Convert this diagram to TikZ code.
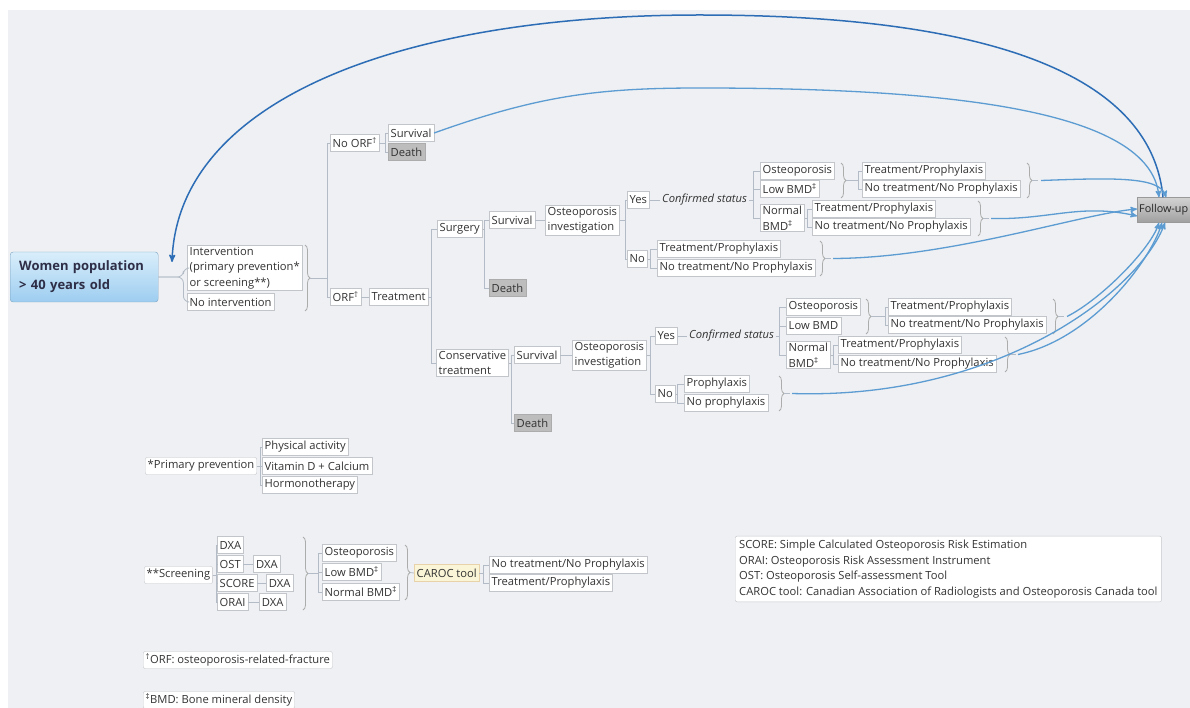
\documentclass[tikz,border=0pt]{standalone}
\usepackage{fontspec}
\setmainfont{Open Sans}
\usetikzlibrary{positioning,arrows,decorations.pathreplacing}

\definecolor{bggray}{HTML}{EEF0F3}
\definecolor{boxline}{HTML}{C2C5C9}
\definecolor{linkgray}{HTML}{B3BCC6}
\definecolor{deathfill}{HTML}{BDBDBD}
\definecolor{flowblue}{HTML}{5C9CD2}
\definecolor{loopblue}{HTML}{2D6DB6}
\definecolor{textdark}{HTML}{333333}
\definecolor{womentop}{HTML}{D9EEFB}
\definecolor{womenbot}{HTML}{9DCDF0}
\definecolor{carocfill}{HTML}{FAF5D6}

\begin{document}
\begin{tikzpicture}[x=1pt,y=-1pt,>=stealth',
    box/.style={draw=boxline,fill=white,anchor=west,inner xsep=2.5pt,inner ysep=1.5pt,
      minimum height=17pt,font=\fontsize{11.2}{15.5}\selectfont,text=textdark,align=left},
    death/.style={box,fill=deathfill,draw=gray!65},
    note/.style={box,rounded corners=2pt},
    plain/.style={anchor=west,inner sep=2pt,font=\fontsize{11.2}{15.5}\selectfont\itshape,text=textdark},
    women/.style={anchor=west,draw=womenbot!80!black,rounded corners=3pt,top color=womentop,bottom color=womenbot,
      minimum height=50pt,text width=130pt,inner xsep=9pt,align=left,
      font=\fontsize{13}{19}\selectfont\bfseries,text=textdark!90!blue},
    followup/.style={anchor=west,draw=gray!80,top color=gray!35,bottom color=gray!75,
      minimum height=25pt,minimum width=80pt,text width=76pt,inner xsep=1.5pt,
      font=\fontsize{10.8}{13}\selectfont,text=black!85},
    caroc/.style={box,fill=carocfill,draw=carocfill!70!brown},
    link/.style={draw=linkgray,line width=0.8pt},
    brc/.style={draw=gray!65,line width=0.8pt,decorate,decoration={brace,amplitude=5pt}},
    flow/.style={draw=flowblue,line width=1.3pt,->},
    loop/.style={draw=loopblue,line width=1.5pt,->}]

\fill[white] (0,0) rectangle (1190,708);
\fill[bggray] (8,10) rectangle (1190,708);
\useasboundingbox (0,0) rectangle (1190,708);

% main tree
\node[women] (women) at (10,277) {Women population\\> 40 years old};
\node[box] (interv) at (187,268) {Intervention\\(primary prevention*\\or screening**)};
\node[box] (nointerv) at (187,302) {No intervention};

\node[box] (noorf) at (330,143) {No ORF\textsuperscript{†}};
\node[box] (surv1) at (388,133) {Survival};
\node[death] (death1) at (388,152) {Death};
\node[box] (orf) at (330,297) {ORF\textsuperscript{†}};
\node[box] (treat) at (369,297) {Treatment};

\node[box] (surgery) at (437,229) {Surgery};
\node[box] (conserv) at (436,363) {Conservative\\treatment};

% surgery branch
\node[box] (surv2) at (489,220) {Survival};
\node[death] (death2) at (489,288) {Death};
\node[box] (inv1) at (545,220) {Osteoporosis\\investigation};
\node[box] (yes1) at (627,200) {Yes};
\node[box] (no1) at (627,259) {No};
\node[plain] (conf1) at (660,200) {Confirmed status};
\node[box] (ost1) at (760,171) {Osteoporosis};
\node[box] (low1) at (760,189) {Low BMD\textsuperscript{‡}};
\node[box] (norm1) at (760,218) {Normal\\BMD\textsuperscript{‡}};
\node[box] (tp1a) at (862,171) {Treatment/Prophylaxis};
\node[box] (ntp1a) at (862,189) {No treatment/No Prophylaxis};
\node[box] (tp1b) at (812,209) {Treatment/Prophylaxis};
\node[box] (ntp1b) at (812,227) {No treatment/No Prophylaxis};
\node[box] (tp1c) at (657,249) {Treatment/Prophylaxis};
\node[box] (ntp1c) at (657,268) {No treatment/No Prophylaxis};

% conservative branch
\node[box] (surv3) at (514,355) {Survival};
\node[death] (death3) at (514,423) {Death};
\node[box] (inv2) at (572,355) {Osteoporosis\\investigation};
\node[box] (yes2) at (655,336) {Yes};
\node[box] (no2) at (655,394) {No};
\node[plain] (conf2) at (687,336) {Confirmed status};
\node[box] (ost2) at (786,307) {Osteoporosis};
\node[box] (low2) at (786,326) {Low BMD};
\node[box] (norm2) at (786,355) {Normal\\BMD\textsuperscript{‡}};
\node[box] (tp2a) at (888,307) {Treatment/Prophylaxis};
\node[box] (ntp2a) at (888,325) {No treatment/No Prophylaxis};
\node[box] (tp2b) at (838,345) {Treatment/Prophylaxis};
\node[box] (ntp2b) at (838,364) {No treatment/No Prophylaxis};
\node[box] (pro2) at (684,384) {Prophylaxis};
\node[box] (nopro2) at (684,403) {No prophylaxis};

\node[followup] (fu) at (1137,210) {Follow-up};

% tree links
\foreach \c in {interv,nointerv}
  \draw[link,rounded corners=6pt] (women.east) -- ++(25,0) |- (\c.west);
\draw[brc] (305,245) -- (305,311);
\coordinate (tipA) at (310,278);
\foreach \c in {noorf,orf}
  \draw[link] (tipA) -- ++(17,0) |- (\c.west);
\foreach \c in {surv1,death1}
  \draw[link] (noorf.east) -- ++(6,0) |- (\c.west);
\draw[link] (orf) -- (treat);
\foreach \c in {surgery,conserv}
  \draw[link] (treat.east) -- ++(3,0) |- (\c.west);
\foreach \c in {surv2,death2}
  \draw[link] (surgery.east) -- ++(2,0) |- (\c.west);
\draw[link] (surv2) -- (inv1);
\foreach \c in {yes1,no1}
  \draw[link] (inv1.east) -- ++(6,0) |- (\c.west);
\draw[link] (yes1) -- (conf1);
\foreach \c in {ost1,low1,norm1}
  \draw[link] (conf1.east) -- ++(4,0) |- (\c.west);
\draw[brc] (841,163) -- (841,198);
\coordinate (tipB) at (846,180.5);
\foreach \c in {tp1a,ntp1a}
  \draw[link] (tipB) -- ++(12,0) |- (\c.west);
\draw[brc] (1027,163) -- (1027,198);
\coordinate (tipC) at (1032,180.5);
\foreach \c in {tp1b,ntp1b}
  \draw[link] (norm1.east) -- ++(3,0) |- (\c.west);
\draw[brc] (978,201) -- (978,236);
\coordinate (tipD) at (983,218.5);
\foreach \c in {tp1c,ntp1c}
  \draw[link] (no1.east) -- ++(2.5,0) |- (\c.west);
\draw[brc] (820,241) -- (820,276);
\coordinate (tipE) at (825,258.5);

\foreach \c in {surv3,death3}
  \draw[link] (conserv.east) -- ++(3,0) |- (\c.west);
\draw[link] (surv3) -- (inv2);
\foreach \c in {yes2,no2}
  \draw[link] (inv2.east) -- ++(4,0) |- (\c.west);
\draw[link] (yes2) -- (conf2);
\foreach \c in {ost2,low2,norm2}
  \draw[link] (conf2.east) -- ++(3,0) |- (\c.west);
\draw[brc] (866,299) -- (866,334);
\coordinate (tipF) at (871,316.5);
\foreach \c in {tp2a,ntp2a}
  \draw[link] (tipF) -- ++(14,0) |- (\c.west);
\draw[brc] (1053,299) -- (1053,334);
\coordinate (tipG) at (1058,316.5);
\foreach \c in {tp2b,ntp2b}
  \draw[link] (norm2.east) -- ++(3,0) |- (\c.west);
\draw[brc] (1005,337) -- (1005,372);
\coordinate (tipH) at (1010,354.5);
\foreach \c in {pro2,nopro2}
  \draw[link] (no2.east) -- ++(2,0) |- (\c.west);
\draw[brc] (779,376) -- (779,411);
\coordinate (tipI) at (784,393.5);
\foreach \t in {tipC,tipD,tipE,tipG,tipH,tipI}
  \draw[link] (\t) -- ++(6,0);

% relations to follow-up
\draw[loop] ([xshift=26pt]fu.north west) .. controls (1150,60) and (950,15) .. (700,15)
  .. controls (400,15) and (178,100) .. ([shift={(-15,-6)}]interv.west);
\draw[flow] (surv1.east) .. controls (540,95) and (600,88) .. (700,88)
  .. controls (950,88) and (1150,110) .. ([xshift=22pt]fu.north west);
\draw[flow] ([xshift=9pt]tipC) .. controls (1110,178) and (1160,176) .. ([xshift=29pt]fu.north west);
\draw[flow] ([xshift=8pt]tipD) .. controls (1050,220) and (1080,203) .. ([yshift=-6pt]fu.west);
\draw[flow] ([xshift=8pt]tipE) .. controls (950,258) and (1080,214) .. ([yshift=1pt]fu.west);
\draw[flow] ([xshift=9pt]tipG) .. controls (1100,300) and (1150,250) .. ([xshift=22pt]fu.south west);
\draw[flow] ([xshift=8pt]tipH) .. controls (1090,340) and (1150,262) .. ([xshift=25pt]fu.south west);
\draw[flow] ([xshift=8pt]tipI) .. controls (1000,400) and (1140,290) .. ([xshift=28pt]fu.south west);

% primary prevention
\node[note] (prim) at (145,466) {*Primary prevention};
\node[box] (phys) at (262,447) {Physical activity};
\node[box] (vit) at (262,466) {Vitamin D + Calcium};
\node[box] (horm) at (262,485) {Hormonotherapy};
\foreach \c in {phys,vit,horm}
  \draw[link] (prim.east) -- ++(3,0) |- (\c.west);

% screening
\node[note] (scr) at (144,575) {**Screening};
\node[box] (dxa0) at (217,545) {DXA};
\node[box] (ost) at (217,564) {OST};
\node[box] (score) at (217,583) {SCORE};
\node[box] (orai) at (217,602) {ORAI};
\node[box,right=10pt of ost] (dxa1) {DXA};
\node[box,right=9pt of score] (dxa2) {DXA};
\node[box,right=11pt of orai] (dxa3) {DXA};
\foreach \c in {dxa0,ost,score,orai}
  \draw[link] (scr.east) -- ++(4,0) |- (\c.west);
\draw[link] (ost) -- (dxa1);
\draw[link] (score) -- (dxa2);
\draw[link] (orai) -- (dxa3);
\draw[brc] (303,537) -- (303,610);
\coordinate (tipJ) at (308,573.5);
\node[box] (osteo) at (322,553) {Osteoporosis};
\node[box] (lowb) at (322,572) {Low BMD\textsuperscript{‡}};
\node[box] (normb) at (322,592) {Normal BMD\textsuperscript{‡}};
\foreach \c in {osteo,lowb,normb}
  \draw[link] (tipJ) -- ++(10,0) |- (\c.west);
\draw[brc] (405,545) -- (405,600);
\coordinate (tipK) at (410,572.5);
\node[caroc] (caroc) at (414,573) {CAROC tool};
\draw[link] (tipK) -- (caroc.west);
\node[box] (ntnp) at (489,565) {No treatment/No Prophylaxis};
\node[box] (tpr) at (489,583) {Treatment/Prophylaxis};
\foreach \c in {ntnp,tpr}
  \draw[link] (caroc.east) -- ++(4,0) |- (\c.west);

% notes
\node[note,inner sep=4pt,font=\fontsize{11.2}{15.5}\selectfont] (abbr) at (735,569)
  {SCORE: Simple Calculated Osteoporosis Risk Estimation\\
   ORAI: Osteoporosis Risk Assessment Instrument\\
   OST: Osteoporosis Self-assessment Tool\\
   CAROC tool: Canadian Association of Radiologists and Osteoporosis Canada tool};
\node[note] (orfnote) at (143,660) {\textsuperscript{†}ORF: osteoporosis-related-fracture};
\node[note] (bmdnote) at (143,700) {\textsuperscript{‡}BMD: Bone mineral density};
\end{tikzpicture}
\end{document}
